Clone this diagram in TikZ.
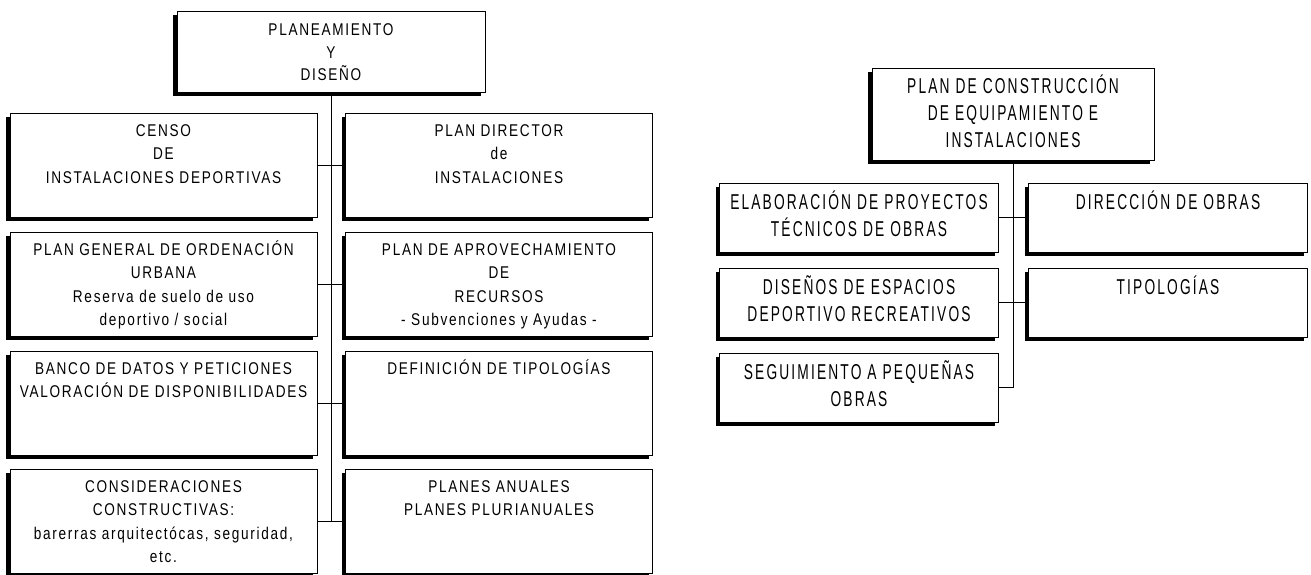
\documentclass[tikz,border=0pt]{standalone}
\usepackage{fontspec}
\setmainfont{Liberation Sans}
\newfontfamily\leftfont[FakeStretch=0.8,LetterSpace=10]{Liberation Sans}
\newfontfamily\rightfont[FakeStretch=0.64,LetterSpace=10]{Liberation Sans}
\usetikzlibrary{positioning}

\tikzset{
  box/.style={draw, line width=0.8pt, fill=white, inner sep=0pt},
  lbox/.style={box, minimum width=307pt, minimum height=104pt},
  rbox/.style={box, minimum width=279pt, minimum height=69pt},
  ltext/.style={align=center, inner sep=0pt, font=\leftfont\fontsize{17}{23.5}\selectfont},
  rtext/.style={align=center, inner sep=0pt, font=\rightfont\fontsize{21.5}{27}\selectfont},
  conn/.style={line width=0.8pt},
}

\begin{document}
\begin{tikzpicture}[x=1pt, y=-1pt]
    \useasboundingbox (0,0) rectangle (1311,574);

        % Shadows (left and below every box)
        \foreach \cx/\cy/\w/\h in {331/51.5/308/81,
                163.5/165/307/104, 499/165/307/104, 163.5/284/307/104, 499/284/307/104,
                163.5/403/307/104, 499/403/307/104, 163.5/521/307/104, 499/521/307/104,
                1013/114/282/92, 859/217.5/279/69, 1168/217.5/279/69,
                859/302.5/279/69, 1168/302.5/279/69, 859/387.5/279/69}
            \fill[black] ({\cx-\w/2-4}, {\cy-\h/2+4}) rectangle ({\cx+\w/2-4}, {\cy+\h/2+4});

        % Planeamiento y diseno
        \node[box, minimum width=308pt, minimum height=81pt] at (331, 51.5) (plan) {};
        \node[ltext, font=\leftfont\fontsize{17}{22.5}\selectfont, below=9pt of plan.north] (planT)
            {\strut PLANEAMIENTO\\Y\\DISEÑO};

        \node[lbox] at (163.5, 165) (censo)    {};
        \node[lbox] at (499, 165)   (director) {};
        \node[lbox] at (163.5, 284) (general)  {};
        \node[lbox] at (499, 284)   (recursos) {};
        \node[lbox] at (163.5, 403) (banco)    {};
        \node[lbox] at (499, 403)   (defin)    {};
        \node[lbox] at (163.5, 521) (consid)   {};
        \node[lbox] at (499, 521)   (anuales)  {};

        \node[ltext, below=7pt of censo.north] (censoT)
            {\strut CENSO\\DE\\INSTALACIONES DEPORTIVAS};
        \node[ltext, below=7pt of director.north] (directorT)
            {\strut PLAN DIRECTOR\\de\\INSTALACIONES};
        \node[ltext, below=7pt of general.north] (generalT)
            {\strut PLAN GENERAL DE ORDENACIÓN\\URBANA\\Reserva de suelo de uso\\deportivo / social};
        \node[ltext, below=7pt of recursos.north] (recursosT)
            {\strut PLAN DE APROVECHAMIENTO\\DE\\RECURSOS\\- Subvenciones y Ayudas -};
        \node[ltext, below=7pt of banco.north] (bancoT)
            {\strut BANCO DE DATOS Y PETICIONES\\VALORACIÓN DE DISPONIBILIDADES};
        \node[ltext, below=7pt of defin.north] (definT)
            {\strut DEFINICIÓN DE TIPOLOGÍAS};
        \node[ltext, below=7pt of consid.north] (considT)
            {\strut CONSIDERACIONES\\CONSTRUCTIVAS:\\barerras arquitectócas, seguridad,\\etc.};
        \node[ltext, below=7pt of anuales.north] (anualesT)
            {\strut PLANES ANUALES\\PLANES PLURIANUALES};

        % Connect the boxes
        \draw[conn] (plan.south) -- (plan.south |- consid.east);
        \draw[conn] (censo.east)   -- (director.west);
        \draw[conn] (general.east) -- (recursos.west);
        \draw[conn] (banco.east)   -- (defin.west);
        \draw[conn] (consid.east)  -- (anuales.west);

        % Plan de construccion
        \node[box, minimum width=282pt, minimum height=92pt] at (1013, 114) (constr) {};
        \node[rtext, below=7pt of constr.north] (constrT)
            {\strut PLAN DE CONSTRUCCIÓN\\DE EQUIPAMIENTO E\\INSTALACIONES};

        \node[rbox] at (859, 217.5)  (elab)    {};
        \node[rbox] at (1168, 217.5) (direcc)  {};
        \node[rbox] at (859, 302.5)  (disenos) {};
        \node[rbox] at (1168, 302.5) (tipol)   {};
        \node[rbox] at (859, 387.5)  (seguim)  {};

        \node[rtext, below=8pt of elab.north] (elabT)
            {\strut ELABORACIÓN DE PROYECTOS\\TÉCNICOS DE OBRAS};
        \node[rtext, below=8pt of direcc.north] (direccT)
            {\strut DIRECCIÓN DE OBRAS};
        \node[rtext, below=8pt of disenos.north] (disenosT)
            {\strut DISEÑOS DE ESPACIOS\\DEPORTIVO RECREATIVOS};
        \node[rtext, below=8pt of tipol.north] (tipolT)
            {\strut TIPOLOGÍAS};
        \node[rtext, below=8pt of seguim.north] (seguimT)
            {\strut SEGUIMIENTO A PEQUEÑAS\\OBRAS};

        \draw[conn] (constr.south) -- (constr.south |- seguim.east);
        \draw[conn] (elab.east)    -- (direcc.west);
        \draw[conn] (disenos.east) -- (tipol.west);
        \draw[conn] (seguim.east)  -- (constr.south |- seguim.east);
    \end{tikzpicture}
\end{document}
